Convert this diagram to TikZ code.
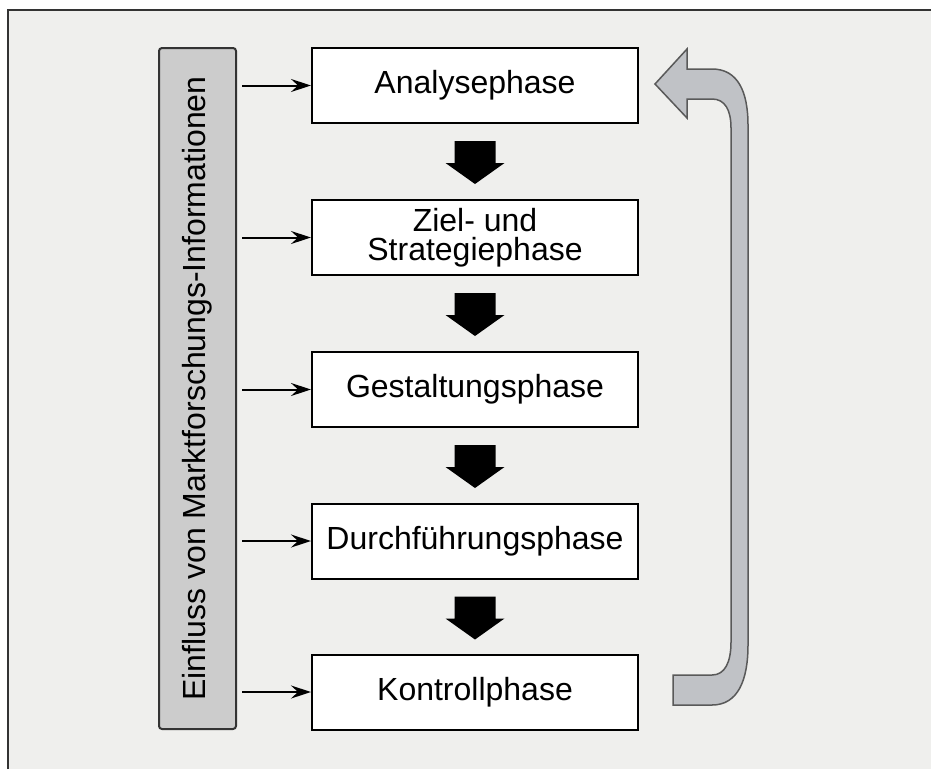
\documentclass[tikz,border=0pt]{standalone}
\usepackage{fontspec}
\setmainfont{Liberation Sans}
\usetikzlibrary{arrows.meta}
\definecolor{bgc}{HTML}{EFEFED}
\definecolor{barc}{HTML}{CCCCCC}
\definecolor{curvc}{HTML}{C0C2C6}
\definecolor{framec}{HTML}{333333}
\tikzset{
  phasebox/.style={draw=black, line width=2pt, fill=white, minimum width=326pt, minimum height=75pt,
    inner sep=0pt, align=center, font=\fontsize{32}{29}\selectfont},
  infobar/.style={draw=framec, line width=2pt, fill=barc, rounded corners=3pt, rotate=90,
    minimum width=681pt, minimum height=77pt, inner sep=0pt, font=\fontsize{32}{29}\selectfont},
  smallarr/.style={line width=2pt, -{Stealth[length=20pt,width=13pt,inset=7pt]}, shorten <=5pt},
  blockarr/.pic={\fill[black] (-20.5,0) -- (20.5,0) -- (20.5,22) -- (29.5,22) -- (0,43) -- (-29.5,22) -- (-20.5,22) -- cycle;}
}
\begin{document}
\begin{tikzpicture}[x=1pt, y=-1pt]
\useasboundingbox (0,0) rectangle (931,769);
\fill[white] (0,0) rectangle (931,769);
\fill[bgc] (8,10) rectangle (931,769);
\draw[framec, line width=2pt] (8,769) -- (8,10) -- (931,10);

\node[infobar] (bar) at (197.5,388.5) {Einfluss von Marktforschungs-Informationen};

\node[phasebox] (a) at (475,85.5) {Analysephase};
\node[phasebox] (b) at (475,237.5) {Ziel- und\\Strategiephase};
\node[phasebox] (c) at (475,389.5) {Gestaltungsphase};
\node[phasebox] (d) at (475,541) {Durchführungsphase};
\node[phasebox] (e) at (475,692) {Kontrollphase};

\foreach \n in {a,b,c,d,e}{
  \draw[smallarr] (bar.south |- \n.west) -- (\n.west);
}

\path (a.south) ++(0,17) pic {blockarr};
\path (b.south) ++(0,17) pic {blockarr};
\path (c.south) ++(0,17) pic {blockarr};
\path (d.south) ++(0,17) pic {blockarr};

% return arrow
\draw[draw=black!65, fill=curvc, line width=1.5pt, line join=miter]
  (655,84) -- (687,49) -- (687,69) -- (712,69)
  .. controls (738,69) and (748,92) .. (748,125)
  -- (748,645)
  .. controls (748,680) and (738,705) .. (712,705)
  -- (673,705) -- (673,675) -- (712,675)
  .. controls (725,675) and (731,662) .. (731,642)
  -- (731,128)
  .. controls (731,110) and (725,99) .. (712,99)
  -- (687,99) -- (687,118) -- cycle;
\end{tikzpicture}
\end{document}
